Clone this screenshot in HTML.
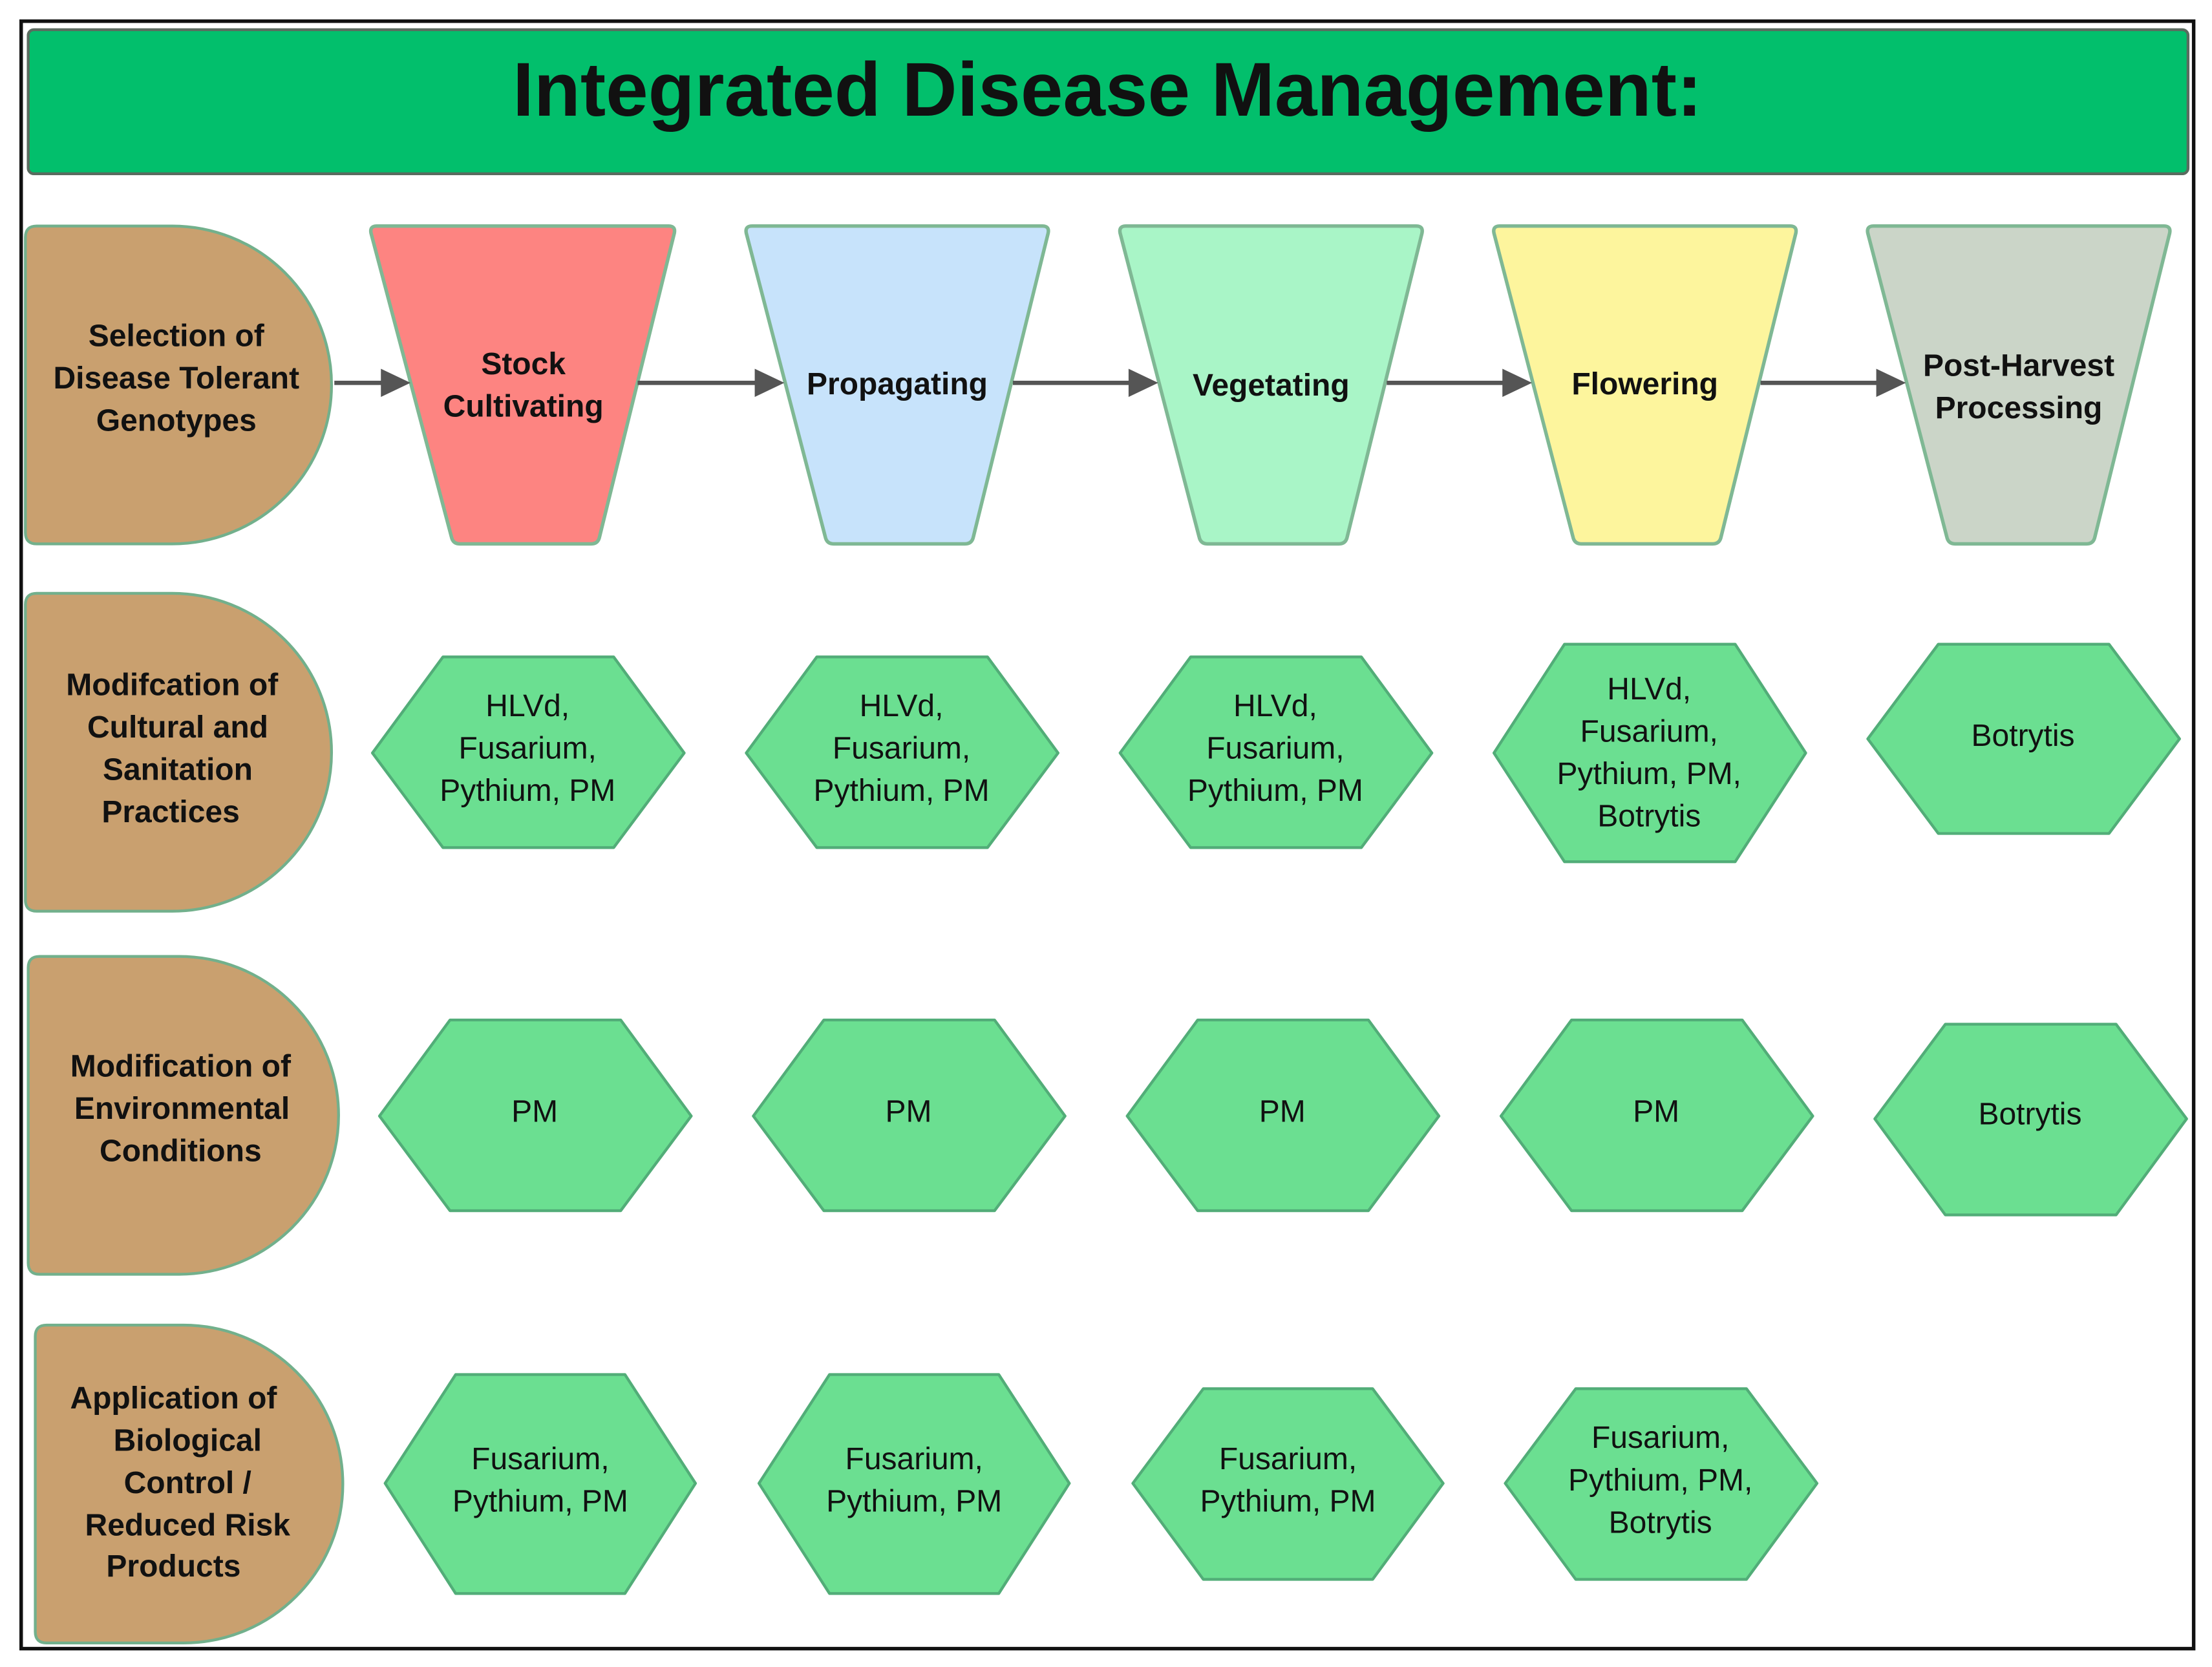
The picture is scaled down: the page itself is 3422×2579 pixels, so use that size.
<!DOCTYPE html>
<html><head><meta charset="utf-8"><style>
html,body{margin:0;padding:0;background:#fff;}
svg{display:block;}
text{font-family:"Liberation Sans",sans-serif;}
</style></head><body>
<svg width="3422" height="2579" viewBox="0 0 1568 1180" preserveAspectRatio="none" xmlns="http://www.w3.org/2000/svg">
<rect x="0" y="0" width="1568" height="1180" fill="#fff"/>
<rect x="15" y="15" width="1540" height="1152" fill="none" stroke="#111" stroke-width="2.5"/>
<rect x="20" y="21" width="1531" height="102" rx="4" fill="#02bf6c" stroke="#5a6b5f" stroke-width="2"/>
<text x="785" y="82" text-anchor="middle" font-size="54" font-weight="bold" fill="#111">Integrated Disease Management:</text>

<g fill="#c9a06f" stroke="#72b08c" stroke-width="2">
<path d="M26,160 H122 A113,112.5 0 0 1 122,385 H26 Q18,385 18,377 V168 Q18,160 26,160 Z"/>
<path d="M26,420 H122 A113,112.5 0 0 1 122,645 H26 Q18,645 18,637 V428 Q18,420 26,420 Z"/>
<path d="M28,677 H127 A113,112.5 0 0 1 127,902 H28 Q20,902 20,894 V685 Q20,677 28,677 Z"/>
<path d="M33,938 H130 A113,112.5 0 0 1 130,1163 H33 Q25,1163 25,1155 V946 Q25,938 33,938 Z"/>
</g>
<g font-size="22" font-weight="bold" fill="#111" text-anchor="middle">
<text x="125" y="245">Selection of</text><text x="125" y="275">Disease Tolerant</text><text x="125" y="305">Genotypes</text>
<text x="122" y="492">Modifcation of</text><text x="126" y="522">Cultural and</text><text x="126" y="552">Sanitation</text><text x="121" y="582">Practices</text>
<text x="128" y="762">Modification of</text><text x="129" y="792">Environmental</text><text x="128" y="822">Conditions</text>
<text x="123" y="997">Application of</text><text x="133" y="1027">Biological</text><text x="133" y="1057">Control /</text><text x="133" y="1087">Reduced Risk</text><text x="123" y="1116">Products</text>
</g>

<g stroke="#7fb894" stroke-width="2.5">
<path d="M267,160 H474 Q479,160 478,165 L425,380 Q424,385 419,385 H326 Q321,385 320,380 L263,165 Q262,160 267,160 Z" fill="#fd8481"/>
<path d="M533,160 H739 Q744,160 743,165 L690,380 Q689,385 684,385 H591 Q586,385 585,380 L529,165 Q528,160 533,160 Z" fill="#c7e3fb"/>
<path d="M798,160 H1004 Q1009,160 1008,165 L955,380 Q954,385 949,385 H856 Q851,385 850,380 L794,165 Q793,160 798,160 Z" fill="#a9f5c7"/>
<path d="M1063,160 H1269 Q1274,160 1273,165 L1220,380 Q1219,385 1214,385 H1121 Q1116,385 1115,380 L1059,165 Q1058,160 1063,160 Z" fill="#fdf59d"/>
<path d="M1328,160 H1534 Q1539,160 1538,165 L1485,380 Q1484,385 1479,385 H1386 Q1381,385 1380,380 L1324,165 Q1323,160 1328,160 Z" fill="#cbd5c8"/>
</g>

<g stroke="#555" stroke-width="3" fill="#555">
<line x1="237" y1="271" x2="272" y2="271"/><path d="M270,261 L291,271 L270,281 Z" stroke="none"/>
<line x1="452" y1="271" x2="537" y2="271"/><path d="M535,261 L556,271 L535,281 Z" stroke="none"/>
<line x1="718" y1="271" x2="802" y2="271"/><path d="M800,261 L821,271 L800,281 Z" stroke="none"/>
<line x1="983" y1="271" x2="1067" y2="271"/><path d="M1065,261 L1086,271 L1065,281 Z" stroke="none"/>
<line x1="1248" y1="271" x2="1332" y2="271"/><path d="M1330,261 L1351,271 L1330,281 Z" stroke="none"/>
</g>
<g font-size="22" font-weight="bold" fill="#111" text-anchor="middle">
<text x="371" y="265">Stock</text><text x="371" y="295">Cultivating</text>
<text x="636" y="279">Propagating</text>
<text x="901" y="280">Vegetating</text>
<text x="1166" y="279">Flowering</text>
<text x="1431" y="266">Post-Harvest</text><text x="1431" y="296">Processing</text>
</g>

<g fill="#6bdf91" stroke="#52ad78" stroke-width="2" stroke-linejoin="round">
<path d="M314,465 H435 L485,533 L435,600 H314 L264,533 Z"/>
<path d="M579,465 H700 L750,533 L700,600 H579 L529,533 Z"/>
<path d="M844,465 H965 L1015,533 L965,600 H844 L794,533 Z"/>
<path d="M1109,456 H1230 L1280,533 L1230,610 H1109 L1059,533 Z"/>
<path d="M1374,456 H1495 L1545,523 L1495,590 H1374 L1324,523 Z"/>

<path d="M319,722 H440 L490,790 L440,857 H319 L269,790 Z"/>
<path d="M584,722 H705 L755,790 L705,857 H584 L534,790 Z"/>
<path d="M849,722 H970 L1020,790 L970,857 H849 L799,790 Z"/>
<path d="M1114,722 H1235 L1285,790 L1235,857 H1114 L1064,790 Z"/>
<path d="M1379,725 H1500 L1550,792 L1500,860 H1379 L1329,792 Z"/>

<path d="M323,973 H443 L493,1050 L443,1128 H323 L273,1050 Z"/>
<path d="M588,973 H708 L758,1050 L708,1128 H588 L538,1050 Z"/>
<path d="M853,983 H973 L1023,1050 L973,1118 H853 L803,1050 Z"/>
<path d="M1117,983 H1238 L1288,1050 L1238,1118 H1117 L1067,1050 Z"/>
</g>
<g font-size="22" fill="#111" text-anchor="middle">
<text x="374" y="507">HLVd,</text><text x="374" y="537">Fusarium,</text><text x="374" y="567">Pythium, PM</text>
<text x="639" y="507">HLVd,</text><text x="639" y="537">Fusarium,</text><text x="639" y="567">Pythium, PM</text>
<text x="904" y="507">HLVd,</text><text x="904" y="537">Fusarium,</text><text x="904" y="567">Pythium, PM</text>
<text x="1169" y="495">HLVd,</text><text x="1169" y="525">Fusarium,</text><text x="1169" y="555">Pythium, PM,</text><text x="1169" y="585">Botrytis</text>
<text x="1434" y="528">Botrytis</text>
<text x="379" y="794">PM</text><text x="644" y="794">PM</text><text x="909" y="794">PM</text><text x="1174" y="794">PM</text>
<text x="1439" y="796">Botrytis</text>
<text x="383" y="1040">Fusarium,</text><text x="383" y="1070">Pythium, PM</text>
<text x="648" y="1040">Fusarium,</text><text x="648" y="1070">Pythium, PM</text>
<text x="913" y="1040">Fusarium,</text><text x="913" y="1070">Pythium, PM</text>
<text x="1177" y="1025">Fusarium,</text><text x="1177" y="1055">Pythium, PM,</text><text x="1177" y="1085">Botrytis</text>
</g>
</svg>
</body></html>
